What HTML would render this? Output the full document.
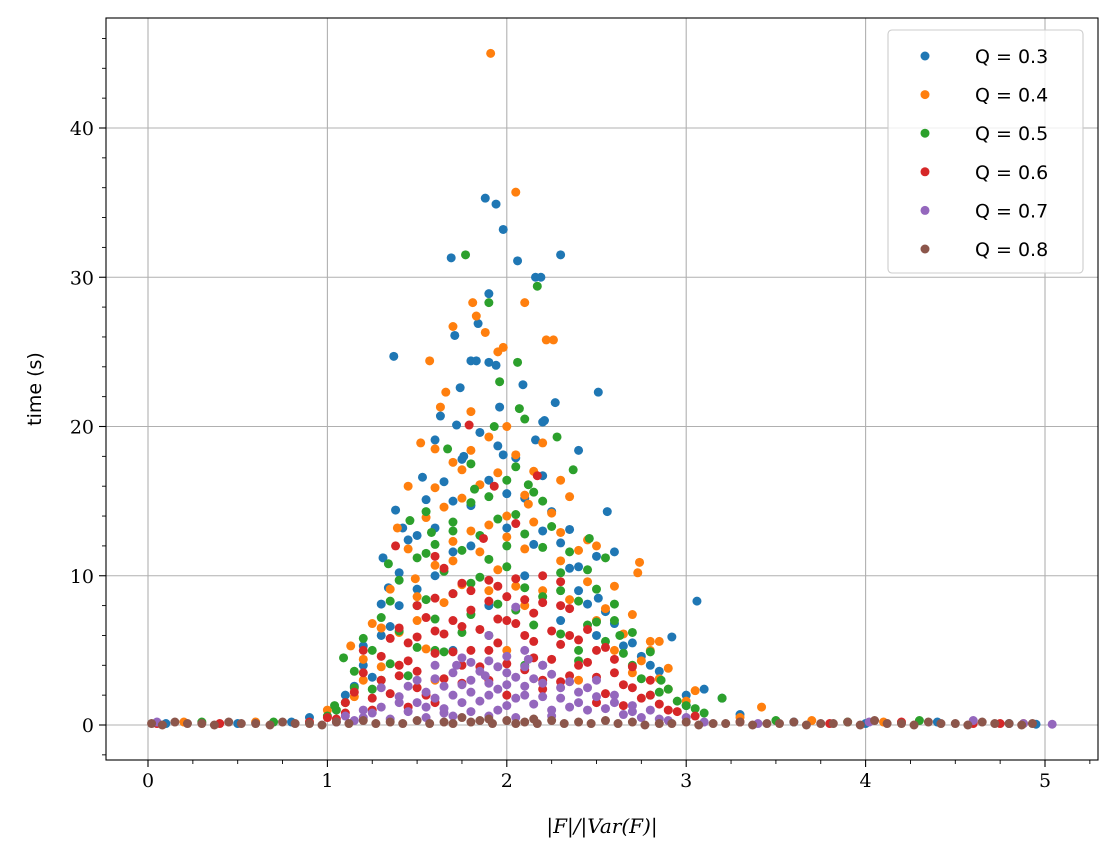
<!DOCTYPE html>
<html><head><meta charset="utf-8"><style>
html,body{margin:0;padding:0;background:#fff;}
svg text{font-family:"DejaVu Serif","Liberation Serif",serif;}
</style></head><body>
<svg id="chart" width="1117" height="862" xmlns="http://www.w3.org/2000/svg"></svg>
<script>
const seriesLabels = ["Q = 0.3","Q = 0.4","Q = 0.5","Q = 0.6","Q = 0.7","Q = 0.8"];
const seriesColors = ["#1f77b4","#ff7f0e","#2ca02c","#d62728","#9467bd","#8c564b"];
const xTicks = [0,1,2,3,4,5];
const yTicks = [0,10,20,30,40];
const q03 = [[1.88,35.3],[1.94,34.9],[1.98,33.2],[2.06,31.1],[2.16,30],[2.19,30],[2.3,31.5],[1.69,31.3],[1.9,28.9],[1.37,24.7],[1.71,26.1],[1.8,24.4],[1.83,24.4],[1.9,24.3],[1.94,24.1],[2.51,22.3],[1.84,26.9],[1.74,22.6],[2.09,22.8],[2.27,21.6],[1.96,21.3],[1.63,20.7],[2.21,20.4],[1.6,19.1],[2.16,19.1],[1.76,18.0],[1.98,18.1],[2.4,18.4],[1.53,16.6],[2.56,14.3],[1.38,14.4],[2.6,11.6],[1.31,11.2],[1.34,9.2],[2.51,8.5],[3.06,8.3],[2.92,5.9],[3.1,2.4],[3.2,1.8],[1.42,13.2],[1.7,15],[2.0,15.5],[2.2,13],[2.35,10.5],[1.5,12.7],[1.8,12],[2.1,10],[2.4,9],[1.4,8],[2.7,5.5],[1.2,4],[2.8,4],[1.1,2],[3,2],[1.3,6],[2.5,6],[0.9,0.5],[3.3,0.7],[0.1,0.1],[0.5,0.1],[0.8,0.2],[3.6,0.2],[4.0,0.1],[4.4,0.2],[4.8,0.1],[4.95,0.05],[1.6,10],[1.9,8],[2.3,7],[1.7,5],[2.2,4],
[1.15,2.6],[1.2,5.3],[1.25,3.2],[1.3,8.1],[1.35,6.6],[1.4,10.2],[1.45,12.4],[1.5,9.1],[1.55,15.1],[1.6,13.2],[1.65,16.3],[1.7,11.6],[1.75,17.8],[1.8,14.7],[1.85,19.6],[1.9,16.4],[1.95,18.7],[2.0,13.2],[2.05,17.9],[2.1,15.2],[2.15,12.1],[2.2,16.7],[2.25,14.3],[2.3,12.2],[2.35,13.1],[2.4,10.6],[2.45,8.1],[2.5,11.3],[2.55,7.6],[2.6,6.8],[2.65,5.3],[2.75,4.6],[2.85,3.6],[3.0,1.3],[2.2,20.3],[1.72,20.1]];
const q04 = [[1.91,45],[2.05,35.7],[1.81,28.3],[1.83,27.4],[2.1,28.3],[1.7,26.7],[1.98,25.3],[1.95,25],[1.88,26.3],[1.57,24.4],[2.22,25.8],[2.26,25.8],[1.66,22.3],[1.63,21.3],[1.8,21],[2.0,20],[1.52,18.9],[1.6,18.5],[1.75,17.1],[2.15,17],[1.45,16],[2.3,16.4],[1.6,15.9],[2.12,14.8],[1.39,13.2],[2.45,12.4],[1.49,9.8],[2.74,10.9],[2.73,10.2],[1.13,5.3],[2.85,5.6],[2.8,5.0],[1.2,3],[3.05,2.3],[3.42,1.2],[1.0,1],[3.3,0.5],[0.2,0.2],[0.6,0.2],[3.7,0.3],[4.1,0.2],[4.6,0.2],[4.88,0.1],[2.0,14],[1.8,13],[2.3,11],[1.7,11],[2.1,8],[1.9,9],[1.5,7],[2.5,7],[1.3,6.5],[2.6,5],[1.4,4],[2.7,3.5],[2.0,5],[1.6,3],[2.4,3],
[1.15,1.9],[1.2,4.4],[1.25,6.8],[1.3,3.9],[1.35,9.1],[1.4,6.2],[1.45,11.8],[1.5,8.6],[1.55,13.9],[1.55,5.1],[1.6,10.7],[1.65,14.6],[1.65,8.2],[1.7,12.3],[1.7,17.6],[1.75,9.4],[1.75,15.2],[1.8,18.4],[1.85,11.6],[1.85,16.1],[1.9,13.4],[1.9,19.3],[1.95,10.4],[1.95,16.9],[2.0,12.6],[2.05,18.1],[2.05,9.3],[2.1,15.4],[2.1,11.8],[2.15,13.6],[2.2,18.9],[2.2,9.0],[2.25,14.2],[2.3,12.9],[2.35,15.3],[2.35,8.4],[2.4,11.7],[2.45,9.6],[2.5,12.0],[2.55,7.8],[2.6,9.3],[2.65,6.1],[2.7,7.4],[2.75,4.3],[2.8,5.6],[2.85,3.1],[2.9,2.4],[3.0,1.6],[1.3,6.5],[2.9,3.8]];
const q05 = [[1.77,31.5],[2.17,29.4],[1.9,28.3],[2.06,24.3],[1.96,23],[2.07,21.2],[2.1,20.5],[2.28,19.3],[1.93,20],[1.67,18.5],[2.37,17.1],[2.05,17.3],[1.8,17.5],[1.55,14.3],[2.46,12.5],[1.46,13.7],[1.55,11.5],[2.55,11.2],[1.34,10.8],[1.35,8.3],[2.45,6.7],[1.09,4.5],[2.63,6],[1.04,1.3],[2.86,3],[3.2,1.8],[2.9,2.4],[0.3,0.2],[0.7,0.2],[3.5,0.3],[3.9,0.2],[4.3,0.3],[1.7,13],[2.2,15],[2.0,12],[1.8,9.5],[2.3,9],[1.5,8],[2.6,7],[1.25,5],[2.7,4],[1.9,6],[2.1,4],[1.6,5],[2.4,5],[1.15,2.5],[2.8,2],[1.3,3],[3.0,1.3],[1.0,0.6],[3.1,0.8],
[1.1,1.5],[1.15,3.6],[1.2,5.8],[1.25,2.4],[1.3,7.2],[1.35,4.1],[1.4,9.7],[1.4,6.3],[1.45,3.3],[1.5,11.2],[1.5,5.2],[1.55,8.4],[1.6,12.1],[1.6,7.1],[1.65,10.3],[1.65,4.9],[1.7,13.6],[1.7,8.8],[1.75,11.7],[1.75,6.2],[1.8,14.9],[1.8,7.4],[1.85,12.7],[1.85,9.9],[1.9,15.3],[1.9,11.1],[1.95,13.8],[1.95,8.1],[2.0,16.4],[2.0,10.6],[2.05,14.1],[2.05,7.7],[2.1,12.8],[2.1,9.2],[2.15,15.6],[2.15,6.7],[2.2,11.9],[2.2,8.6],[2.25,13.3],[2.3,10.2],[2.3,6.1],[2.35,11.6],[2.4,8.3],[2.4,4.3],[2.45,10.4],[2.5,6.9],[2.5,9.1],[2.55,5.6],[2.6,8.1],[2.65,4.8],[2.7,6.2],[2.75,3.1],[2.8,4.9],[2.85,2.2],[2.95,1.6],[3.05,1.1],[1.05,1.0],[1.58,12.9],[2.12,16.1],[1.82,15.8]];
const q06 = [[1.79,20.1],[2.17,16.7],[1.93,16],[1.38,12],[1.65,10.5],[1.87,12.5],[2.05,13.5],[2.2,10],[1.9,9.7],[2.3,8],[1.5,8],[1.6,6.3],[1.2,5],[2.5,5],[2.6,3.5],[1.3,3],[1.1,1.5],[2.8,2],[2.9,1],[1.0,0.5],[0.05,0.1],[0.4,0.1],[0.9,0.2],[3.3,0.2],[3.8,0.1],[4.2,0.2],[4.6,0.1],[4.75,0.1],[1.7,7],[2.0,7],[2.1,6],[1.8,5],[2.4,4],[1.4,4],[1.5,2.5],[2.7,2.5],[1.9,3],[2.2,3],[2.0,2],[1.6,1.5],[2.5,1.5],[1.25,1],[1.75,4],[2.35,6],[1.95,5.5],[2.15,4.5],[1.45,5.5],[2.65,1.3],
[1.1,0.8],[1.15,2.2],[1.2,3.5],[1.25,1.8],[1.3,4.6],[1.35,2.1],[1.35,5.8],[1.4,3.3],[1.4,6.5],[1.45,1.2],[1.45,4.3],[1.5,5.9],[1.5,3.6],[1.55,7.2],[1.55,2.0],[1.6,4.8],[1.6,8.5],[1.65,3.1],[1.65,6.1],[1.7,8.8],[1.7,4.9],[1.75,6.6],[1.75,2.8],[1.8,7.7],[1.8,9.0],[1.85,6.4],[1.85,3.9],[1.9,8.3],[1.9,5.0],[1.95,9.3],[1.95,7.1],[2.0,8.6],[2.0,4.1],[2.05,9.8],[2.05,6.8],[2.1,8.4],[2.1,3.7],[2.15,7.5],[2.15,5.6],[2.2,8.2],[2.2,2.4],[2.25,6.3],[2.25,4.4],[2.3,5.4],[2.3,2.9],[2.35,7.8],[2.35,3.3],[2.4,5.7],[2.45,4.2],[2.45,6.4],[2.5,3.2],[2.55,5.2],[2.55,2.1],[2.6,4.4],[2.65,2.7],[2.7,3.9],[2.75,1.8],[2.8,3.0],[2.85,1.4],[2.95,0.9],[3.05,0.6],[1.05,0.4],[1.6,11.3],[2.3,9.6],[1.75,9.5]];
const q07 = [[2.05,7.9],[1.9,6],[1.75,4.5],[2.1,5],[2.2,4],[1.6,4],[1.5,3],[2.5,3],[1.3,2.5],[2.6,2],[1.4,1.5],[2.4,1.5],[1.2,1],[2.8,1],[1.1,0.6],[3.0,0.5],[1.8,3],[2.0,3.5],[2.3,2.5],[1.7,2],[1.9,2],[2.1,2],[1.55,1.2],[2.7,1.3],[1.95,1],[2.25,1],[1.65,0.8],[0.05,0.2],[4.6,0.3],[4.88,0.1],[5.04,0.05],[4.02,0.2],[3.4,0.1],
[1.15,0.3],[1.2,0.5],[1.25,0.8],[1.3,1.2],[1.35,0.4],[1.4,1.9],[1.45,0.9],[1.45,2.6],[1.5,1.5],[1.55,2.2],[1.55,0.5],[1.6,3.1],[1.6,1.8],[1.65,2.6],[1.65,1.1],[1.7,3.5],[1.7,0.6],[1.75,2.7],[1.75,1.5],[1.8,4.2],[1.8,2.2],[1.8,0.9],[1.85,3.6],[1.85,1.6],[1.9,4.3],[1.9,2.8],[1.9,0.6],[1.95,3.9],[1.95,2.4],[2.0,4.6],[2.0,2.7],[2.0,1.3],[2.05,3.2],[2.05,1.8],[2.05,0.5],[2.1,3.9],[2.1,2.6],[2.15,3.1],[2.15,1.4],[2.2,2.8],[2.2,1.9],[2.25,3.4],[2.25,0.6],[2.3,1.8],[2.35,2.9],[2.35,1.2],[2.4,2.2],[2.45,1.0],[2.45,2.5],[2.5,1.9],[2.55,1.1],[2.6,1.5],[2.65,0.7],[2.7,0.9],[2.75,0.5],[2.85,0.4],[2.9,0.3],[1.05,0.2],[3.1,0.2],[2.12,4.4],[1.88,3.3],[1.72,4.0]];
const q08 = [[0.02,0.1],[0.15,0.2],[0.3,0.1],[0.45,0.2],[0.6,0.1],[0.75,0.2],[0.9,0.1],[1.05,0.2],[1.2,0.3],[1.35,0.2],[1.5,0.3],[1.65,0.2],[1.75,0.5],[1.85,0.3],[2.0,0.3],[2.1,0.2],[2.25,0.3],[2.4,0.2],[2.55,0.3],[2.7,0.2],[2.85,0.1],[3.0,0.2],[3.15,0.1],[3.3,0.2],[3.45,0.1],[3.6,0.2],[3.75,0.1],[3.9,0.2],[4.05,0.3],[4.2,0.1],[4.35,0.2],[4.5,0.1],[4.65,0.2],[4.8,0.1],[4.93,0.1],
[0.08,0.0],[0.22,0.1],[0.37,0.0],[0.52,0.1],[0.68,0.0],[0.82,0.1],[0.97,0.0],[1.12,0.1],[1.27,0.1],[1.42,0.1],[1.57,0.1],[1.7,0.1],[1.8,0.2],[1.92,0.1],[2.05,0.1],[2.17,0.1],[2.32,0.1],[2.47,0.1],[2.62,0.1],[2.77,0.0],[2.92,0.1],[3.07,0.0],[3.22,0.1],[3.37,0.0],[3.52,0.1],[3.67,0.0],[3.82,0.1],[3.97,0.0],[4.12,0.1],[4.27,0.0],[4.42,0.1],[4.57,0.0],[4.72,0.1],[4.87,0.0],[1.9,0.4],[2.15,0.4]];
const allSeries = [q03,q04,q05,q06,q07,q08];

const NS="http://www.w3.org/2000/svg";
const svg=document.getElementById('chart');
const L=106,R=1098,T=18,B=760;
const xs=v=>148+v*179.4;
const ys=v=>725-v*14.925;
function mk(tag,attrs,parent){const e=document.createElementNS(NS,tag);for(const k in attrs)e.setAttribute(k,attrs[k]);(parent||svg).appendChild(e);return e;}

const grid=mk('g',{});


xTicks.forEach(v=>{mk('line',{x1:xs(v),x2:xs(v),y1:T,y2:B,stroke:'#b0b0b0','stroke-width':1.1},grid);});
yTicks.forEach(v=>{mk('line',{x1:L,x2:R,y1:ys(v),y2:ys(v),stroke:'#b0b0b0','stroke-width':1.1},grid);});

allSeries.forEach((s,i)=>{
  const g=mk('g',{fill:seriesColors[i]});
  
  
  s.forEach(p=>{const c=mk('circle',{cx:xs(p[0]),cy:ys(p[1]),r:4.5},g);
    
    });
});

const ax=mk('g',{});


mk('rect',{x:L,y:T,width:R-L,height:B-T,fill:'none',stroke:'#000','stroke-width':1.1},ax);
xTicks.forEach(v=>{mk('line',{x1:xs(v),x2:xs(v),y1:B,y2:B+7,stroke:'#000','stroke-width':1.1},ax);
  const t=mk('text',{x:xs(v),y:B+27,'text-anchor':'middle','font-size':19},ax);t.textContent=v;
  });
for(let v=-0.25;v<=5.26;v+=0.25){if(Math.abs(v-Math.round(v))<1e-6)continue;const px=xs(v);if(px<L||px>R)continue;mk('line',{x1:px,x2:px,y1:B,y2:B+4,stroke:'#000','stroke-width':0.9},ax);}
yTicks.forEach(v=>{mk('line',{x1:L-7,x2:L,y1:ys(v),y2:ys(v),stroke:'#000','stroke-width':1.1},ax);
  const t=mk('text',{x:L-12,y:ys(v)+7,'text-anchor':'end','font-size':19},ax);t.textContent=v;
  });
for(let v=-2;v<=46;v+=2){if(v%10===0)continue;const py=ys(v);if(py<T||py>B)continue;mk('line',{x1:L-4,x2:L,y1:py,y2:py,stroke:'#000','stroke-width':0.9},ax);}

const xt=mk('text',{x:(L+R)/2,y:833,'text-anchor':'middle','font-size':20,'font-style':'italic'});
xt.textContent='|F|/|Var(F)|';

const yt=mk('text',{x:0,y:0,'text-anchor':'middle','font-size':19,transform:'translate(41,389) rotate(-90)','style':'font-family:"DejaVu Sans","Liberation Sans",sans-serif'});
yt.textContent='time (s)';


const lg=mk('g',{});


mk('rect',{x:888,y:30,width:195,height:243,rx:4,fill:'#fff','fill-opacity':0.8,stroke:'#ccc','stroke-width':1.1},lg);
seriesLabels.forEach((s,i)=>{const y=56+i*38.6;
  const e=mk('g',{},lg);
  mk('circle',{cx:925,cy:y,r:4.5,fill:seriesColors[i]},e);
  const t=mk('text',{x:975,y:y+7,'font-size':19,'style':'font-family:"DejaVu Sans","Liberation Sans",sans-serif'},e);t.textContent=s;});
</script>
</body></html>
